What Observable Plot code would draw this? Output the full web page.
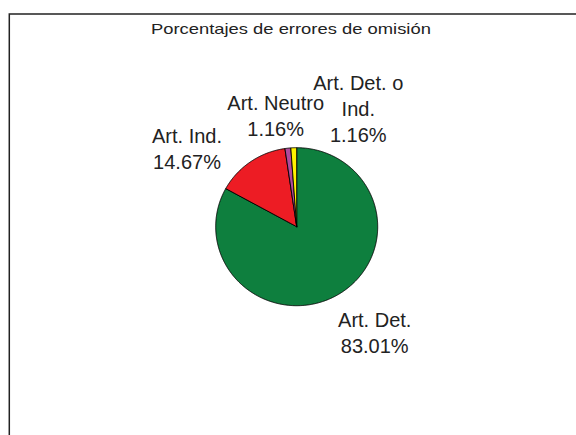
<!DOCTYPE html>
<html><head><meta charset="utf-8">
<script src="https://cdn.jsdelivr.net/npm/d3@7"></script>
<script src="https://cdn.jsdelivr.net/npm/@observablehq/plot@0.6"></script>
<style>body{margin:0;background:#fff;} svg{display:block;}</style>
</head><body><div id="chart"></div>
<script>
const title = "Porcentajes de errores de omisión";
const categories = ["Art. Det.", "Art. Ind.", "Art. Neutro", "Art. Det. o\nInd."];
const values = [83.01, 14.67, 1.16, 1.16];
const colors = ["#0e7f3e", "#ed1c24", "#b04a9c", "#fff200"];
// label placement (pixel offsets from each slice's outer mid-point)
const labelOffsets = [[36.8, 36.7], [-63.5, -14.5], [-12.2, -33.7], [64.5, -40]];

const total = d3.sum(values);
let acc = 0;
const slices = categories.map((c, i) => {
  const a0 = acc / total * 2 * Math.PI;
  acc += values[i];
  const a1 = acc / total * 2 * Math.PI;
  return {category: c, value: values[i], a0, a1, mid: (a0 + a1) / 2, i};
});
const pts = [];
for (const s of slices) {
  pts.push({cat: s.category, x: 0, y: 0});
  const n = Math.max(2, Math.ceil((s.a1 - s.a0) / (Math.PI / 360)));
  for (let k = 0; k <= n; k++) {
    const a = s.a0 + (s.a1 - s.a0) * k / n;
    pts.push({cat: s.category, x: Math.sin(a), y: Math.cos(a)});
  }
  pts.push({cat: s.category, x: 0, y: 0});
}

const font = "'Liberation Sans', Arial, sans-serif";
const chart = Plot.plot({
  width: 576,
  height: 435,
  marginLeft: 8.8,
  marginTop: 13.5,
  marginRight: -5,
  marginBottom: -5,
  x: {domain: [-1, 1], range: [215.2, 377.2], axis: null},
  y: {domain: [-1, 1], range: [305.2, 147.2], axis: null},
  color: {domain: categories, range: colors},
  style: {fontFamily: font, background: "#fff", color: "#222"},
  marks: [
    Plot.frame({stroke: "#222", strokeWidth: 1.5}),
    Plot.text([title], {frameAnchor: "top", text: d => d, dx: -4.5, dy: 9.5, lineAnchor: "top", fontSize: 14.5, fill: "#222"}),
    Plot.line(pts, {x: "x", y: "y", z: "cat", fill: "cat", stroke: "#000", strokeWidth: 0.9, strokeLinejoin: "round", curve: "linear"}),
    ...slices.map(s => Plot.text([s], {
      x: d => Math.sin(d.mid), y: d => Math.cos(d.mid),
      text: d => d.category + "\n" + d.value.toFixed(2) + "%",
      dx: labelOffsets[s.i][0], dy: labelOffsets[s.i][1],
      lineAnchor: "middle", lineHeight: 1.3, fontSize: 20, fill: "#222"
    }))
  ]
});
document.getElementById("chart").appendChild(chart);
d3.select(chart).selectAll("text").filter(function() { return this.textContent === title; })
  .attr("textLength", 280).attr("lengthAdjust", "spacingAndGlyphs");
</script>
</body></html>
